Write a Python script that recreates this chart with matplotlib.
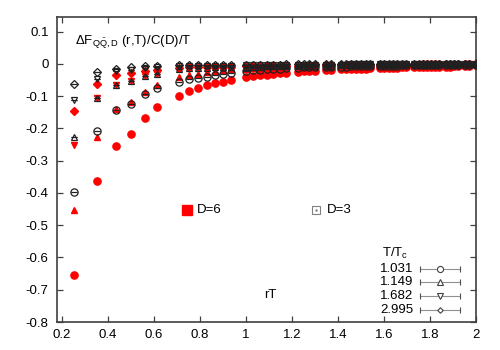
import matplotlib
matplotlib.use('Agg')
import matplotlib.pyplot as plt

plt.rcParams['font.family'] = ['Liberation Sans', 'DejaVu Sans']
plt.rcParams['mathtext.fontset'] = 'custom'
plt.rcParams['mathtext.rm'] = 'Liberation Sans'
plt.rcParams['mathtext.it'] = 'Liberation Sans:italic'
plt.rcParams['axes.unicode_minus'] = False

# distancias rT
rT = [0.250, 0.354, 0.433, 0.500, 0.559, 0.612, 0.707, 0.750, 0.791, 0.829,
      0.866, 0.901, 0.935, 1.000, 1.031, 1.061, 1.090, 1.118, 1.146, 1.173,
      1.225, 1.250, 1.275, 1.299, 1.346, 1.369, 1.414, 1.436, 1.458, 1.479,
      1.500, 1.521, 1.541, 1.581, 1.601, 1.620, 1.639, 1.658, 1.677, 1.696,
      1.732, 1.750, 1.768, 1.785, 1.803, 1.820, 1.837, 1.871, 1.887, 1.904,
      1.920, 1.953, 1.969, 2.000]

temperaturas = ['1.031', '1.149', '1.682', '2.995']

# D=6 (vermelho, cheio)
d6_1031 = [-0.655, -0.363, -0.254, -0.216, -0.168, -0.133, -0.098, -0.084, -0.076, -0.066,
           -0.059, -0.057, -0.050, -0.042, -0.038, -0.035, -0.033, -0.030, -0.029, -0.027,
           -0.024, -0.023, -0.022, -0.021, -0.019, -0.018, -0.017, -0.017, -0.016, -0.016,
           -0.015, -0.015, -0.014, -0.013, -0.013, -0.012, -0.012, -0.012, -0.011, -0.011,
           -0.010, -0.010, -0.010, -0.009, -0.009, -0.009, -0.008, -0.008, -0.008, -0.007,
           -0.007, -0.006, -0.006, -0.002]
d6_1149 = [-0.453, -0.225, -0.140, -0.119, -0.086, -0.066, -0.040, -0.034, -0.030, -0.024,
           -0.022, -0.020, -0.017, -0.015, -0.014, -0.013, -0.013, -0.012, -0.012, -0.011,
           -0.011, -0.010, -0.010, -0.010, -0.009, -0.009, -0.009, -0.008, -0.008, -0.008,
           -0.008, -0.007, -0.007, -0.007, -0.007, -0.006, -0.006, -0.006, -0.006, -0.006,
           -0.005, -0.005, -0.005, -0.005, -0.005, -0.005, -0.004, -0.004, -0.004, -0.004,
           -0.004, -0.003, -0.003, 0.006]
d6_1682 = [-0.251, -0.107, -0.065, -0.054, -0.038, -0.030, -0.016, -0.015, -0.014, -0.013,
           -0.012, -0.012, -0.011, -0.010, -0.009, -0.009, -0.008, -0.008, -0.008, -0.007,
           -0.007, -0.007, -0.006, -0.006, -0.006, -0.006, -0.005, -0.005, -0.005, -0.005,
           -0.005, -0.004, -0.004, -0.004, -0.004, -0.004, -0.004, -0.003, -0.003, -0.003,
           -0.003, -0.003, -0.003, -0.003, -0.002, -0.002, -0.002, -0.002, -0.002, -0.002,
           -0.002, -0.002, -0.001, -0.001]
d6_2995 = [-0.147, -0.061, -0.034, -0.028, -0.022, -0.020, -0.012, -0.011, -0.010, -0.010,
           -0.009, -0.009, -0.008, -0.007, -0.007, -0.006, -0.006, -0.006, -0.005, -0.005,
           -0.005, -0.005, -0.004, -0.004, -0.004, -0.004, -0.004, -0.003, -0.003, -0.003,
           -0.003, -0.003, -0.003, -0.002, -0.002, -0.002, -0.002, -0.002, -0.002, -0.002,
           -0.002, -0.002, -0.001, -0.001, -0.001, -0.001, -0.001, -0.001, -0.001, -0.001,
           -0.001, -0.001, -0.001, -0.001]

# D=3 (preto, vazado)
d3_1031 = [-0.398, -0.207, -0.144, -0.123, -0.094, -0.076, -0.055, -0.047, -0.045, -0.039,
           -0.034, -0.032, -0.029, -0.022, -0.020, -0.018, -0.017, -0.016, -0.015, -0.014,
           -0.012, -0.011, -0.011, -0.010, -0.009, -0.009, -0.008, -0.008, -0.007, -0.007,
           -0.007, -0.006, -0.006, -0.006, -0.005, -0.005, -0.005, -0.005, -0.004, -0.004,
           -0.004, -0.004, -0.004, -0.003, -0.003, -0.003, -0.003, -0.003, -0.003, -0.002,
           -0.002, -0.002, -0.002, -0.002]
d3_1149 = [-0.227, -0.107, -0.065, -0.054, -0.038, -0.030, -0.015, -0.014, -0.013, -0.012,
           -0.011, -0.011, -0.010, -0.009, -0.008, -0.008, -0.007, -0.007, -0.007, -0.006,
           -0.006, -0.006, -0.005, -0.005, -0.005, -0.005, -0.004, -0.004, -0.004, -0.004,
           -0.004, -0.003, -0.003, -0.003, -0.003, -0.003, -0.003, -0.002, -0.002, -0.002,
           -0.002, -0.002, -0.002, -0.002, -0.002, -0.002, -0.001, -0.001, -0.001, -0.001,
           -0.001, -0.001, -0.001, -0.001]
d3_1682 = [-0.111, -0.048, -0.022, -0.018, -0.012, -0.010, -0.007, -0.007, -0.006, -0.006,
           -0.005, -0.005, -0.005, -0.004, -0.004, -0.004, -0.003, -0.003, -0.003, -0.003,
           -0.003, -0.002, -0.002, -0.002, -0.002, -0.002, -0.002, -0.002, -0.001, -0.001,
           -0.001, -0.001, -0.001, -0.001, -0.001, -0.001, -0.001, -0.001, -0.001, -0.001,
           -0.001, -0.001, 0.000, 0.000, 0.000, 0.000, 0.000, 0.000, 0.000, 0.000,
           0.000, 0.000, 0.000, 0.000]
d3_2995 = [-0.061, -0.026, -0.015, -0.011, -0.007, -0.006, -0.004, -0.004, -0.004, -0.003,
           -0.003, -0.003, -0.003, -0.002, -0.002, -0.002, -0.002, -0.002, -0.002, -0.001,
           -0.001, -0.001, -0.001, -0.001, -0.001, -0.001, -0.001, -0.001, -0.001, -0.001,
           0.000, 0.000, 0.000, 0.000, 0.000, 0.000, 0.000, 0.000, 0.000, 0.000,
           0.000, 0.000, 0.000, 0.000, 0.000, 0.000, 0.000, 0.000, 0.000, 0.000,
           0.000, 0.000, 0.000, 0.000]

marcadores = ['o', '^', 'v', 'D']
tamanhos = [5.2, 4.8, 4.8, 3.6]
serie_d6 = [d6_1031, d6_1149, d6_1682, d6_2995]
serie_d3 = [d3_1031, d3_1149, d3_1682, d3_2995]

cinza = '#404040'
escuro = '#202020'

fig = plt.figure(figsize=(5, 3.5), dpi=100)
ax = fig.add_axes([0.114, 0.080, 0.838, 0.871])

for y, m, s in zip(serie_d6, marcadores, tamanhos):
    ax.plot(rT, y, linestyle='none', marker=m, ms=s, color='#ff0000', mec='#ff0000', zorder=2)

for y, m, s in zip(serie_d3, marcadores, tamanhos):
    ax.errorbar(rT, y, yerr=0, fmt='none', ecolor=escuro, elinewidth=0.8, capsize=2.4, capthick=0.8, zorder=3)
    ax.plot(rT, y, linestyle='none', marker=m, ms=s, mfc='none', mec=escuro, mew=0.9, zorder=3)

ax.set_xlim(0.178, 2.0)
ax.set_ylim(-0.8, 0.145)
ax.set_xticks([0.2, 0.4, 0.6, 0.8, 1.0, 1.2, 1.4, 1.6, 1.8, 2.0])
ax.set_xticklabels(['0.2', '0.4', '0.6', '0.8', '1', '1.2', '1.4', '1.6', '1.8', '2'])
ax.set_yticks([-0.8, -0.7, -0.6, -0.5, -0.4, -0.3, -0.2, -0.1, 0.0, 0.1])
ax.set_yticklabels(['-0.8', '-0.7', '-0.6', '-0.5', '-0.4', '-0.3', '-0.2', '-0.1', '0', '0.1'])
ax.tick_params(direction='in', length=4, width=0.9, color=cinza, labelsize=9.5,
               top=True, right=True)
ax.tick_params(axis='y', pad=6)
ax.tick_params(axis='x', pad=5)
for lado in ax.spines.values():
    lado.set_color(cinza)
    lado.set_linewidth(1.2)

# textos
ax.text(0.043, 0.918, r'$\mathrm{\Delta F_{Q\bar{Q},D}}$ (r,T)/C(D)/T', transform=ax.transAxes,
        fontsize=9.5, va='center', ha='left')
ax.text(0.508, 0.089, 'rT', transform=ax.transAxes, fontsize=9.5, ha='center', va='center')

ax.plot([0.310], [0.367], marker='s', ms=6.5, color='#ff0000', transform=ax.transAxes, clip_on=False)
ax.text(0.334, 0.367, 'D=6', transform=ax.transAxes, fontsize=9.5, va='center', ha='left')
ax.plot([0.617], [0.367], marker='s', ms=5.5, mfc='none', mec='#808080', mew=0.8,
        transform=ax.transAxes, clip_on=False)
ax.plot([0.617], [0.367], marker='.', ms=1.5, color='#808080', transform=ax.transAxes)
ax.text(0.644, 0.367, 'D=3', transform=ax.transAxes, fontsize=9.5, va='center', ha='left')

# legenda manual
ax.text(0.807, 0.225, r'T/T$_\mathrm{c}$', transform=ax.transAxes, fontsize=9.5, ha='center', va='center')
linhas_y = [0.174, 0.131, 0.085, 0.039]
for t, m, s, ly in zip(temperaturas, marcadores, tamanhos, linhas_y):
    ax.text(0.850, ly, t, transform=ax.transAxes, fontsize=9.5, ha='right', va='center')
    ax.plot([0.866, 0.962], [ly, ly], color='#909090', lw=0.8, transform=ax.transAxes)
    ax.plot([0.866, 0.962], [ly, ly], linestyle='none', marker='|', ms=4, mew=0.8,
            color='#505050', transform=ax.transAxes)
    ax.plot([0.914], [ly], marker=m, ms=s - 0.8, mfc='white', mec=cinza, mew=0.8,
            transform=ax.transAxes)

fig.savefig('out.png', dpi=100)
